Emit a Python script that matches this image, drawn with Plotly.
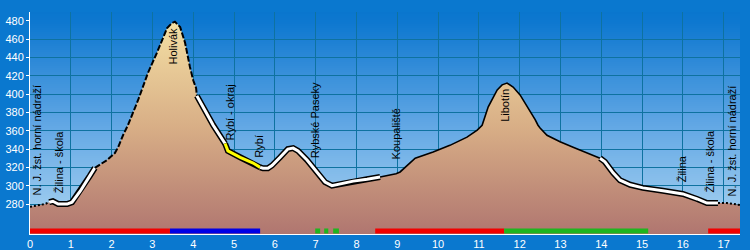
import plotly.graph_objects as go

# ---------------- data ----------------
km = [0.00, 0.37, 0.47, 0.56, 0.69, 0.91, 1.03, 1.23, 1.47, 1.59,
      1.89, 2.08, 2.16, 2.28, 2.40, 2.65, 2.89, 3.11, 3.26, 3.36,
      3.48, 3.55, 3.68, 3.80, 3.92, 4.00, 4.07, 4.09, 4.17, 4.29,
      4.49, 4.78, 4.85, 5.15, 5.47, 5.64, 5.71, 5.83, 5.93, 6.13,
      6.32, 6.45, 6.57, 6.79, 7.03, 7.23, 7.40, 7.60, 7.92, 8.26,
      8.58, 8.70, 8.97, 9.07, 9.26, 9.44, 9.88, 10.29, 10.71, 10.96,
      11.08, 11.23, 11.45, 11.57, 11.69, 11.84, 12.01, 12.21, 12.38, 12.45,
      12.50, 12.67, 12.99, 13.31, 13.65, 13.97, 14.09, 14.29, 14.46, 14.71,
      15.02, 15.51, 16.00, 16.35, 16.59, 16.86, 17.08, 17.40]
elev = [277, 280, 282, 283, 280, 280, 282, 294, 311, 319.5,
        328, 335.6, 342, 355, 366, 393.5, 423, 445, 462, 472,
        477.5, 479, 473, 456, 429.5, 415, 406.6, 398, 391, 382,
        366, 346, 338, 331, 324.7, 320, 319, 319, 322, 331,
        340, 341, 338, 328, 315, 304, 300, 302, 305, 307,
        309.5, 310.6, 313, 315, 322.6, 330, 336.7, 344, 353, 360.6,
        366, 386, 404.5, 410, 412, 407.6, 399, 385, 372, 366,
        363, 355, 348, 342, 335.6, 330, 326, 314, 306, 301,
        297.6, 294.4, 291, 285.5, 281, 281, 281, 279]

# route segment breakpoints (km) and their line style
seg_breaks = [0.00, 0.47, 1.59, 4.09, 4.78, 5.64, 8.58, 13.97, 16.86, 17.40]
seg_styles = ["dot", "white", "dash", "white", "yellow", "white", "solid", "white", "dot"]

# waypoint labels
label_text = ["N. J. žst. horní nádraží", "Žilina - škola", "Holivák", "Rybí - okraj",
              "Rybí", "Rybské Paseky", "Koupaliště", "Libotín", "Žilina",
              "Žilina - škola", "N. J. žst. horní nádraží"]
label_km = [0.17, 0.71, 3.48, 4.90, 5.59, 6.99, 8.97, 11.64, 15.98, 16.67, 17.20]
label_elev = [287.6, 290, 429.5, 347, 328, 328, 326, 368, 301, 290, 286.5]

# surface bars along the bottom
bar_start = [0.00, 3.43, 6.99, 7.21, 7.43, 8.46, 11.62, 16.62]
bar_end = [3.43, 5.64, 7.11, 7.31, 7.57, 11.62, 15.15, 17.40]
bar_color = ["#f20000", "#0000e6", "#1fb51f", "#1fb51f", "#1fb51f", "#f20000", "#1fb51f", "#f20000"]

y_ticks = list(range(280, 481, 20))
grid_ticks = list(range(280, 461, 20))

# ---------------- layout constants ----------------
X_MAX = 17.40
Y_MIN, Y_MAX = 247.3, 489.5
BAR_Y = Y_MIN + 3.3
GRID = "#0e72a0"
FONT = "Liberation Sans, Arial, sans-serif"

fig = go.Figure()

# terrain fill
fig.add_trace(go.Scatter(
    x=km, y=elev, mode="none", fill="tozeroy",
    fillgradient=dict(type="vertical", start=Y_MIN, stop=480,
                      colorscale=[[0, "#b07670"], [0.5, "#d8ae86"], [1, "#f4e0a4"]]),
    hoverinfo="skip", showlegend=False))

# profile outline by segment
for i, style in enumerate(seg_styles):
    a, b = seg_breaks[i], seg_breaks[i + 1]
    xs = [k for k in km if a - 1e-9 <= k <= b + 1e-9]
    ys = [e for k, e in zip(km, elev) if a - 1e-9 <= k <= b + 1e-9]
    if style in ("white", "yellow"):
        fig.add_trace(go.Scatter(x=xs, y=ys, mode="lines",
                                 line=dict(color="black", width=6),
                                 hoverinfo="skip", showlegend=False))
        fig.add_trace(go.Scatter(x=xs, y=ys, mode="lines",
                                 line=dict(color="white" if style == "white" else "#ffff00", width=3),
                                 hoverinfo="skip", showlegend=False))
    elif style == "dot":
        fig.add_trace(go.Scatter(x=xs, y=ys, mode="lines",
                                 line=dict(color="black", width=2, dash="2px,2px"),
                                 hoverinfo="skip", showlegend=False))
    elif style == "dash":
        fig.add_trace(go.Scatter(x=xs, y=ys, mode="lines",
                                 line=dict(color="black", width=2, dash="6px,2px"),
                                 hoverinfo="skip", showlegend=False))
    else:
        fig.add_trace(go.Scatter(x=xs, y=ys, mode="lines",
                                 line=dict(color="black", width=1.6),
                                 hoverinfo="skip", showlegend=False))

# bottom surface bars
for s, e, c in zip(bar_start, bar_end, bar_color):
    fig.add_trace(go.Scatter(x=[s, e], y=[BAR_Y, BAR_Y], mode="lines",
                             line=dict(color=c, width=5),
                             hoverinfo="skip", showlegend=False))

# empty trace so that grid axis is drawn
fig.add_trace(go.Scatter(x=[None], y=[None], yaxis="y2", showlegend=False, hoverinfo="skip"))

# labels
annotations = []
for t, k, e in zip(label_text, label_km, label_elev):
    annotations.append(dict(x=k, y=e, xref="x", yref="y", text=t, textangle=-90,
                            showarrow=False, xanchor="center", yanchor="bottom",
                            font=dict(family=FONT, size=11, color="black")))

# background gradient bands (below grid)
def lerp(c1, c2, t):
    return tuple(round(a + (b - a) * t) for a, b in zip(c1, c2))

stops = [(0.0, (174, 214, 242)), (0.5, (96, 166, 228)), (0.95, (14, 120, 208)), (1.0, (10, 118, 206))]
N = 111
shapes = []
for j in range(N):
    f = (j + 0.5) / N
    for (p0, c0), (p1, c1) in zip(stops[:-1], stops[1:]):
        if p0 <= f <= p1:
            col = lerp(c0, c1, (f - p0) / (p1 - p0))
            break
    shapes.append(dict(type="rect", xref="paper", yref="paper", x0=0, x1=1,
                       y0=j / N, y1=min(1, (j + 1.6) / N), line=dict(width=0),
                       fillcolor="rgb(%d,%d,%d)" % col, layer="below"))

fig.update_layout(
    width=750, height=250, autosize=False,
    margin=dict(l=30, r=10, t=12, b=16, autoexpand=False),
    paper_bgcolor="#0a78cf", plot_bgcolor="rgba(0,0,0,0)",
    showlegend=False, shapes=shapes, annotations=annotations,
    xaxis=dict(range=[0, X_MAX], tick0=0, dtick=1, showgrid=True, gridcolor=GRID, gridwidth=1,
               zeroline=False, showline=True, linecolor="white", linewidth=1, ticks="",
               automargin=False,
               tickfont=dict(family=FONT, size=11, color="white")),
    yaxis=dict(range=[Y_MIN, Y_MAX], tickvals=y_ticks, showgrid=False, zeroline=False,
               showline=True, linecolor="white", linewidth=1, ticks="outside", ticklen=3,
               automargin=False,
               tickcolor="white", tickfont=dict(family=FONT, size=11, color="white")),
    yaxis2=dict(range=[Y_MIN, Y_MAX], overlaying="y", tickvals=grid_ticks, showgrid=True,
                gridcolor=GRID, gridwidth=1, showticklabels=False, ticks="", zeroline=False,
                showline=False, automargin=False),
)

fig.write_html("out.html")
